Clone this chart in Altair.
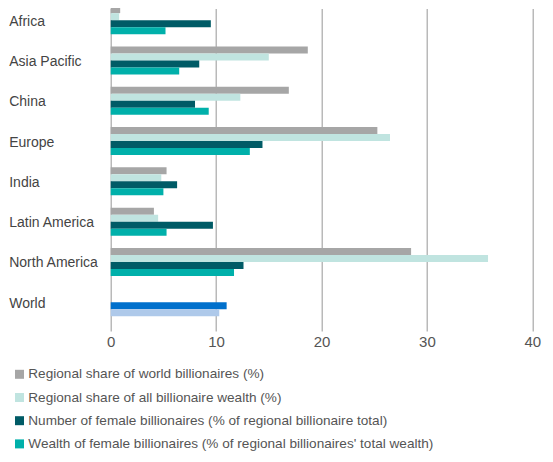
import altair as alt
import pandas as pd

regions = ["Africa", "Asia Pacific", "China", "Europe", "India",
           "Latin America", "North America", "World"]
share_billionaires = [0.9, 18.7, 16.9, 25.3, 5.3, 4.1, 28.5, None]
share_wealth = [0.8, 15.0, 12.3, 26.5, 4.8, 4.5, 35.8, None]
female_count = [9.5, 8.4, 8.0, 14.4, 6.3, 9.7, 12.6, 11.0]
female_wealth = [5.2, 6.5, 9.3, 13.2, 5.0, 5.3, 11.7, 10.3]

series_names = [
    "Regional share of world billionaires (%)",
    "Regional share of all billionaire wealth (%)",
    "Number of female billionaires (% of regional billionaire total)",
    "Wealth of female billionaires (% of regional billionaires' total wealth)",
]
series_colors = ["#a6a6a6", "#c0e4e0", "#005b66", "#00b0aa"]
world_keys = ["World: number of female billionaires", "World: wealth of female billionaires"]
world_colors = ["#0070cc", "#aec9ea"]

rows = []
for s_idx, vals in enumerate([share_billionaires, share_wealth, female_count, female_wealth]):
    for r, v in zip(regions, vals):
        if v is None:
            continue
        key = series_names[s_idx]
        if r == "World" and s_idx >= 2:
            key = world_keys[s_idx - 2]
        rows.append({"region": r, "series": series_names[s_idx], "key": key, "value": v})
df = pd.DataFrame(rows)

font = "Liberation Sans"

chart = alt.Chart(df).mark_bar().encode(
    x=alt.X("value:Q",
            scale=alt.Scale(domain=[0, 40], nice=False, zero=True),
            axis=alt.Axis(values=[0, 10, 20, 30, 40], title=None, grid=True,
                          gridColor="#a8a8a8", gridWidth=1.2, domain=False,
                          ticks=False, tickSize=0, labelFontSize=15,
                          labelColor="#555555", labelFont=font, labelFlush=False,
                          labelBaseline="middle", labelPadding=18)),
    y=alt.Y("region:N", sort=regions,
            scale=alt.Scale(range=[-8, 314.4], paddingInner=0, paddingOuter=0),
            axis=alt.Axis(title=None, grid=False, domain=False, ticks=False,
                          tickSize=0, labelAlign="left", labelPadding=102,
                          labelFontSize=14, labelColor="#444444", labelFont=font,
                          labelBaseline="middle", labelOffset=1.5)),
    yOffset=alt.YOffset("series:N", sort=series_names,
                        scale=alt.Scale(domain=series_names, paddingInner=0,
                                        paddingOuter=0.88)),
    color=alt.Color("key:N",
                    scale=alt.Scale(domain=series_names + world_keys,
                                    range=series_colors + world_colors),
                    legend=alt.Legend(values=series_names, title=None,
                                      orient="none", legendX=-98, legendY=359.5,
                                      symbolType="square", symbolSize=81,
                                      symbolStrokeWidth=0, labelFontSize=13.6,
                                      labelFont=font, labelColor="#555555",
                                      labelOffset=2, rowPadding=8.2, padding=0,
                                      labelLimit=500)),
).properties(
    width=421.6, height=315,
    autosize=alt.AutoSizeParams(type="none"),
    padding={"left": 102.7, "top": 0, "right": 12.7, "bottom": 131},
).configure_view(stroke=None)

chart.save("out.html", embed_options={"renderer": "svg", "actions": False})
